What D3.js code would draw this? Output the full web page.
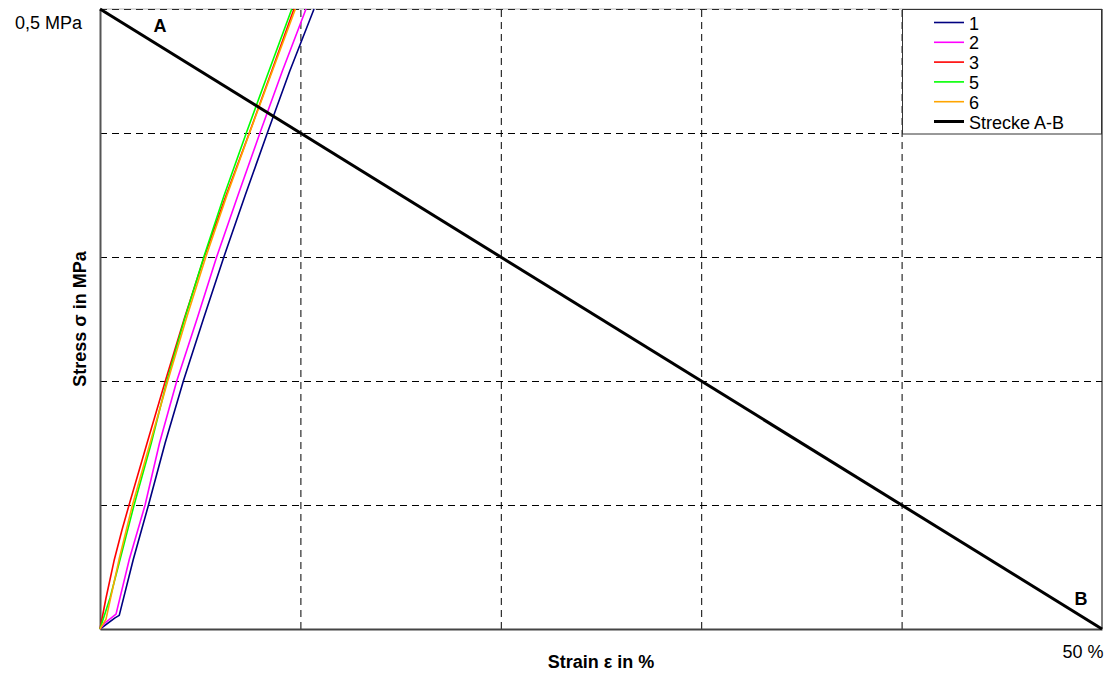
<!DOCTYPE html>
<html>
<head>
<meta charset="utf-8">
<script src="https://cdn.jsdelivr.net/npm/d3@7"></script>
<style>
  html, body { margin: 0; padding: 0; background: #fff; }
  svg { display: block; font-family: "Liberation Sans", Arial, sans-serif; }
</style>
</head>
<body>
<svg id="chart" width="1109" height="675"></svg>
<script>
// Stress–strain curves of the specimens, [strain %, stress MPa]
const specimen1 = [[0,0],[0.75,0.009],[0.96,0.011],[1.66,0.056],[2.42,0.10],[3.25,0.15],[4.16,0.20],[5.16,0.25],[6.18,0.30],[7.25,0.35],[8.35,0.40],[9.47,0.45],[10.68,0.50]];
const specimen2 = [[0,0],[0.25,0.005],[0.80,0.012],[1.46,0.056],[2.25,0.10],[2.97,0.15],[3.83,0.20],[4.84,0.25],[5.82,0.30],[6.89,0.35],[7.98,0.40],[9.10,0.45],[10.28,0.50]];
const specimen3 = [[0,0],[0.30,0.025],[0.70,0.055],[1.10,0.08],[1.45,0.10],[2.35,0.15],[3.26,0.20],[4.20,0.25],[5.20,0.30],[6.30,0.35],[7.45,0.40],[8.57,0.45],[9.68,0.50]];
const specimen5 = [[0,0],[0.50,0.025],[1.00,0.056],[1.70,0.10],[2.56,0.15],[3.34,0.20],[4.22,0.25],[5.18,0.30],[6.20,0.35],[7.30,0.40],[8.43,0.45],[9.57,0.50]];
const specimen6 = [[0,0],[0.30,0.008],[0.95,0.056],[1.62,0.10],[2.50,0.15],[3.38,0.20],[4.30,0.25],[5.28,0.30],[6.34,0.35],[7.46,0.40],[8.60,0.45],[9.75,0.50]];

// Reference line from A to B
const lineAB = [[0,0.5],[50,0]];

const seriesNames = ["1","2","3","5","6","Strecke A-B"];
const seriesColors = ["#000080","#ff00ff","#ff0000","#00ff00","#ffa500","#000000"];

const xGridTicks = [10,20,30,40];
const yGridTicks = [0.1,0.2,0.3,0.4,0.5];
const xTickValues = [50];
const xTickLabels = ["50 %"];
const yTickValues = [0.5];
const yTickLabels = ["0,5 MPa"];

const svg = d3.select("#chart");
const m = {left:100, right:1102, top:9, bottom:629};

const x = d3.scaleLinear().domain([0,50]).range([m.left, m.right]);
const y = d3.scaleLinear().domain([0,0.5]).range([m.bottom, m.top]);

// dashed grid
const grid = svg.append("g");
grid.append("g")
  .attr("transform", `translate(0,${m.bottom})`)
  .call(d3.axisBottom(x).tickValues(xGridTicks).tickSize(-(m.bottom-m.top)).tickFormat(""))
  .call(g => g.select(".domain").remove());
grid.append("g")
  .attr("transform", `translate(${m.left},0)`)
  .call(d3.axisLeft(y).tickValues(yGridTicks).tickSize(-(m.right-m.left)).tickFormat(""))
  .call(g => g.select(".domain").remove());
grid.selectAll("line").attr("stroke","#000").attr("stroke-width",1).attr("stroke-dasharray","7,5");

// frame
svg.append("line").attr("x1",m.right).attr("x2",m.right).attr("y1",m.top).attr("y2",m.bottom)
  .attr("stroke","#000").attr("stroke-width",1);
svg.append("line").attr("x1",m.left).attr("x2",m.right).attr("y1",m.top).attr("y2",m.top)
  .attr("stroke","#888").attr("stroke-width",1).attr("opacity",0.6);

// axes
const xAxis = svg.append("g")
  .attr("transform", `translate(0,${m.bottom})`)
  .call(d3.axisBottom(x).tickValues(xTickValues).tickSize(0).tickPadding(0)
        .tickFormat((d,i) => xTickLabels[i]));
xAxis.select(".domain").attr("stroke","#444").attr("stroke-width",2);
xAxis.selectAll("text").attr("font-size",18).attr("fill","#000")
  .attr("text-anchor","end").attr("x",1).attr("dy",null).attr("y",29);

const yAxis = svg.append("g")
  .attr("transform", `translate(${m.left},0)`)
  .call(d3.axisLeft(y).tickValues(yTickValues).tickSize(0).tickPadding(18)
        .tickFormat((d,i) => yTickLabels[i]));
yAxis.select(".domain").attr("stroke","#555").attr("stroke-width",2);
yAxis.selectAll("text").attr("font-size",18).attr("fill","#000").attr("dy",null).attr("y",19);

// curves
const line = d3.line().x(d => x(d[0])).y(d => y(d[1]));
const specimens = [specimen1, specimen2, specimen3, specimen5, specimen6];
specimens.forEach((s,i) => {
  svg.append("path").datum(s).attr("d", line)
    .attr("fill","none").attr("stroke", seriesColors[i]).attr("stroke-width",1.6)
    .attr("stroke-linejoin","round");
});
svg.append("path").datum(lineAB).attr("d", line)
  .attr("fill","none").attr("stroke","#000").attr("stroke-width",3);

// point labels
svg.append("text").attr("x", x(lineAB[0][0]) + 60).attr("y", y(lineAB[0][1]) + 23)
  .attr("text-anchor","middle").attr("font-size",18).attr("font-weight","bold").text("A");
svg.append("text").attr("x", x(lineAB[1][0]) - 21).attr("y", y(lineAB[1][1]) - 24)
  .attr("text-anchor","middle").attr("font-size",18).attr("font-weight","bold").text("B");

// axis titles
svg.append("text").attr("x", 601).attr("y", 668).attr("text-anchor","middle")
  .attr("font-size",18).attr("font-weight","bold").text("Strain ε in %");
svg.append("text").attr("transform","translate(86,319) rotate(-90)").attr("text-anchor","middle")
  .attr("font-size",18).attr("font-weight","bold").text("Stress σ in MPa");

// legend
const lg = svg.append("g");
lg.append("rect").attr("x",902.5).attr("y",9.5).attr("width",199).attr("height",124.5)
  .attr("fill","#fff").attr("stroke","#333").attr("stroke-width",1);
seriesNames.forEach((name,i) => {
  const ly = 22.5 + i*19.8;
  lg.append("line").attr("x1",934).attr("x2",964).attr("y1",ly).attr("y2",ly)
    .attr("stroke",seriesColors[i]).attr("stroke-width", i === 5 ? 3 : 1.6);
  lg.append("text").attr("x",969).attr("y",ly+7).attr("font-size",18).attr("fill","#000").text(name);
});
</script>
</body>
</html>
